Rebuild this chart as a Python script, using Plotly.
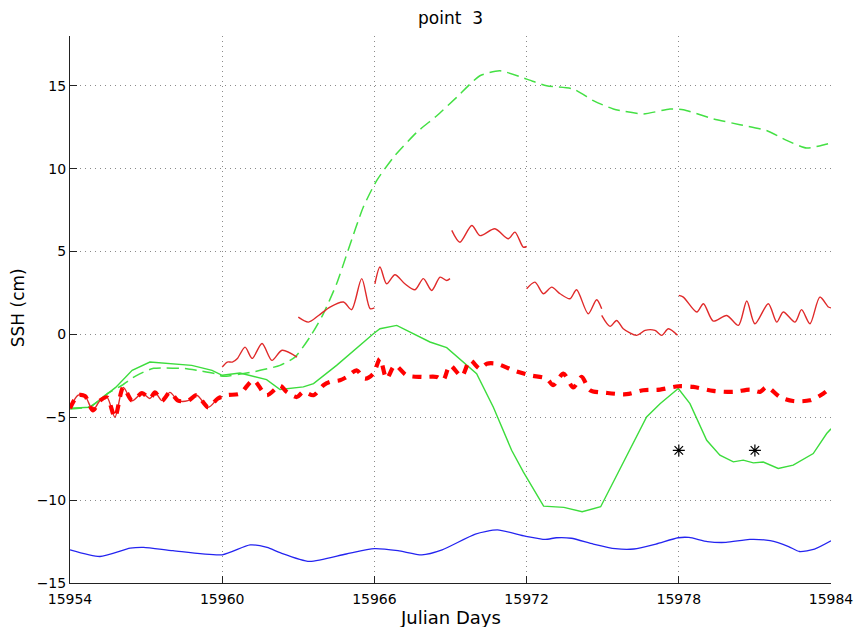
import plotly.graph_objects as go

# ---------------- data ----------------
blue_days = [15954, 15955.18, 15956.37, 15956.9, 15958.06, 15960, 15961.1, 15961.77,
             15962.28, 15963.44, 15964.89, 15966, 15966.93, 15967.87, 15968.67, 15969.98,
             15970.85, 15971.94, 15972.74, 15973.17, 15973.76, 15974.63, 15975.5, 15976.23,
             15977.1, 15977.97, 15978.4, 15979.13, 15979.86, 15980.8, 15981.6, 15982.33,
             15982.76, 15983.35, 15984]
blue_ssh = [-13.0, -13.4, -12.9, -12.85, -13.05, -13.3, -12.7, -12.85,
            -13.17, -13.7, -13.25, -12.93, -13.05, -13.3, -13.0, -12.05,
            -11.8, -12.17, -12.37, -12.27, -12.3, -12.65, -12.93, -12.95,
            -12.65, -12.27, -12.25, -12.5, -12.55, -12.37, -12.45, -12.8,
            -13.1, -12.95, -12.45]

green_days = [15954, 15954.8, 15955.8, 15956.45, 15957.15, 15958.14, 15958.8, 15959.6, 15960,
              15960.7, 15961.75, 15962.28, 15963.2, 15963.6, 15964.51, 15965.96, 15966.22,
              15966.88, 15967.53, 15968.19, 15968.85, 15969.37, 15970.03, 15970.69, 15971.41,
              15971.87, 15972.67, 15973.47, 15974.19, 15974.92, 15975.94, 15976.73, 15977.26,
              15977.98, 15978.44, 15979.1, 15979.62, 15980.15, 15980.54, 15980.94, 15981.33,
              15981.92, 15982.51, 15983.3, 15983.83, 15984]
green_ssh = [-4.45, -4.4, -3.2, -2.17, -1.67, -1.8, -1.87, -2.17, -2.47,
             -2.33, -2.73, -3.33, -3.17, -2.97, -1.87, 0.04, 0.34,
             0.54, 0.04, -0.46, -0.8, -1.47, -2.37, -4.4, -6.99,
             -8.29, -10.36, -10.44, -10.7, -10.4, -7.39, -4.98, -4.18,
             -3.27, -4.18, -6.39, -7.29, -7.69, -7.59, -7.75, -7.7,
             -8.09, -7.89, -7.19, -5.98, -5.7]

gdash_days = [15954, 15954.8, 15955.5, 15956.05, 15956.6, 15957.3, 15958.6, 15959.0, 15959.8,
              15960, 15961.2, 15962.28, 15962.87, 15963.46, 15963.99, 15964.51, 15964.97,
              15965.56, 15966.09, 15966.75, 15967.67, 15968.46, 15969.24, 15970.16, 15970.95,
              15972, 15972.79, 15973.84, 15974.63, 15975.42, 15976.6, 15977.65, 15978.18,
              15979.36, 15980.41, 15981.46, 15982.25, 15983.04, 15983.76, 15984]
gdash_ssh = [-4.5, -4.35, -3.55, -3.07, -2.5, -2.05, -2.07, -2.17, -2.4,
             -2.53, -2.27, -1.87, -1.37, -0.16, 1.25, 3.05, 5.1,
             7.67, 9.28, 10.68, 12.19, 13.19, 14.3, 15.6, 15.9,
             15.4, 15.0, 14.8, 14.1, 13.6, 13.3, 13.6, 13.55,
             13.0, 12.65, 12.3, 11.7, 11.24, 11.45, 11.55]

rthick_days = [15954, 15954.32, 15954.59, 15954.9, 15955.18, 15955.46, 15955.77, 15956.1,
               15956.45, 15956.84, 15957.15, 15957.35, 15957.63, 15957.94, 15958.26, 15958.65,
               15959.0, 15959.45, 15959.83, 15960.2, 15960.7, 15961.23, 15961.75, 15962.28,
               15962.54, 15962.94, 15963.2, 15963.6, 15963.99, 15964.25, 15964.64, 15964.91,
               15965.3, 15965.63, 15965.96, 15966.22, 15966.48, 15966.81, 15967.27, 15967.86,
               15968.46, 15968.71, 15968.98, 15969.44, 15969.77, 15970.16, 15970.43, 15970.82,
               15971.48, 15972.13, 15972.79, 15973.05, 15973.45, 15973.84, 15974.17, 15974.5,
               15975.15, 15975.94, 15976.6, 15977.26, 15977.98, 15978.57, 15979.36, 15980.15,
               15980.81, 15981.2, 15981.47, 15981.99, 15982.51, 15983.17, 15983.7, 15984]
rthick_ssh = [-4.46, -3.67, -3.72, -4.58, -4.0, -3.8, -5.0, -3.2,
              -4.0, -3.55, -3.87, -3.5, -4.0, -3.5, -4.0, -4.0,
              -3.67, -4.4, -3.87, -3.67, -3.57, -2.77, -3.67, -3.1,
              -3.47, -3.78, -3.47, -3.67, -3.07, -2.87, -2.77, -2.57,
              -2.17, -2.67, -2.37, -1.47, -2.67, -1.87, -2.47, -2.57,
              -2.57, -2.77, -1.87, -2.53, -1.57, -2.07, -1.77, -1.77,
              -2.17, -2.47, -2.67, -3.07, -2.37, -3.2, -2.57, -3.37,
              -3.53, -3.61, -3.37, -3.33, -3.13, -3.17, -3.41, -3.47,
              -3.33, -3.47, -3.17, -3.78, -4.02, -3.98, -3.57, -3.2]

# thin red segments (separate pieces)
rthin_days = [
    [15954, 15954.32, 15954.59, 15954.9, 15955.18, 15955.46, 15955.77, 15956.1, 15956.45,
     15956.84, 15957.15, 15957.35, 15957.63, 15957.94, 15958.26, 15958.65, 15959.0,
     15959.45, 15959.83, 15960],
    [15960, 15960.2, 15960.4, 15960.6, 15960.9, 15961.18, 15961.57, 15961.96, 15962.36, 15962.95],
    [15963, 15963.4, 15963.8, 15964.25, 15964.78, 15965.1, 15965.5, 15965.83, 15966],
    [15966.02, 15966.22, 15966.48, 15966.81, 15967.2, 15967.6, 15967.93, 15968.26, 15968.59,
     15968.85, 15968.98],
    [15969.05, 15969.37, 15969.84, 15970.16, 15970.75, 15971.28, 15971.54, 15971.87, 15972],
    [15972, 15972.33, 15972.66, 15972.99, 15973.32, 15973.71, 15973.97, 15974.43, 15974.76,
     15974.96],
    [15974.96, 15975.29, 15975.55, 15975.81, 15976.34, 15976.67, 15977.06, 15977.33, 15977.59,
     15977.95],
    [15978, 15978.18, 15978.71, 15978.97, 15979.36, 15979.89, 15980.35, 15980.68, 15981.0,
     15981.53, 15981.86, 15982.12, 15982.58, 15982.84, 15983.17, 15983.56, 15983.9, 15984],
]
rthin_ssh = [
    [-4.46, -3.67, -3.72, -4.58, -4.0, -3.8, -5.0, -3.2, -4.0,
     -3.55, -3.87, -3.5, -4.0, -3.5, -4.0, -4.0, -3.67,
     -4.4, -3.87, -3.75],
    [-1.97, -1.67, -1.67, -1.45, -0.77, -1.45, -0.55, -1.57, -0.96, -1.37],
    [1.04, 0.74, 1.14, 1.65, 1.95, 1.49, 3.36, 1.55, 1.6],
    [3.05, 4.06, 3.05, 3.6, 3.05, 2.69, 3.36, 2.65, 3.45, 3.25, 3.36],
    [6.27, 5.56, 6.57, 5.96, 6.37, 5.77, 6.17, 5.26, 5.3],
    [2.75, 3.15, 2.45, 2.85, 2.45, 2.15, 2.69, 1.24, 2.09, 1.55],
    [1.14, 0.48, 0.84, 0.34, -0.06, 0.24, 0.24, -0.06, 0.34, -0.06],
    [2.35, 2.25, 1.35, 1.85, 0.8, 1.14, 0.54, 2.01, 0.64,
     1.85, 0.74, 1.35, 0.74, 1.49, 0.64, 2.25, 1.65, 1.6],
]

star_days = [15978, 15981]
star_ssh = [-7.0, -7.0]

x_ticks = [15954, 15960, 15966, 15972, 15978, 15984]
y_ticks = [-15, -10, -5, 0, 5, 10, 15]

# ---------------- figure ----------------
FONT = "DejaVu Sans"
fig = go.Figure()

fig.add_trace(go.Scatter(x=blue_days, y=blue_ssh, mode="lines",
                         line=dict(color="#2424f0", width=1.3, shape="spline", smoothing=0.6)))
fig.add_trace(go.Scatter(x=gdash_days, y=gdash_ssh, mode="lines",
                         line=dict(color="#44e044", width=1.5, dash="12px,6px",
                                   shape="spline", smoothing=0.6)))
fig.add_trace(go.Scatter(x=green_days, y=green_ssh, mode="lines",
                         line=dict(color="#3cdc3c", width=1.4)))

tx, ty = [], []
for d, v in zip(rthin_days, rthin_ssh):
    tx += d + [None]
    ty += v + [None]
fig.add_trace(go.Scatter(x=tx, y=ty, mode="lines", connectgaps=False,
                         line=dict(color="#e02a2a", width=1.4, shape="spline", smoothing=0.8)))

fig.add_trace(go.Scatter(x=rthick_days, y=rthick_ssh, mode="lines",
                         line=dict(color="#ff0000", width=4.2, dash="9px,8px",
                                   shape="spline", smoothing=0.8)))

fig.add_trace(go.Scatter(x=star_days, y=star_ssh, mode="markers",
                         marker=dict(symbol="asterisk-open", size=10, color="black",
                                     line=dict(color="black", width=1.2))))

axis_common = dict(
    showline=True, linecolor="#222", linewidth=1,
    ticks="inside", ticklen=7, tickcolor="#222", tickwidth=1,
    showgrid=True, gridcolor="#8a8a8a", gridwidth=1, griddash="1px,4px",
    zeroline=False, mirror=False, automargin=False,
    tickfont=dict(family=FONT, size=14, color="black"),
)

fig.update_xaxes(range=[15954, 15984], tickvals=x_ticks, ticklabelstandoff=3,
                 ticktext=[str(t) for t in x_ticks], **axis_common)
fig.update_yaxes(range=[-15, 18], tickvals=y_ticks,
                 ticktext=[str(t).replace("-", "\u2212") for t in y_ticks], **axis_common)

fig.update_layout(
    width=858, height=627,
    margin=dict(l=70, r=27, t=36, b=44, pad=0, autoexpand=False),
    paper_bgcolor="white", plot_bgcolor="white",
    showlegend=False,
    font=dict(family=FONT, color="black"),
    title=dict(text="point&nbsp;&nbsp;3", x=0.5, xref="paper", y=0.972, yref="container",
               xanchor="center", yanchor="middle",
               font=dict(family=FONT, size=17, color="black")),
    annotations=[
        dict(text="Julian Days", x=0.5, y=-0.0625, xref="paper", yref="paper",
             xanchor="center", yanchor="middle", showarrow=False,
             font=dict(family=FONT, size=18, color="black")),
        dict(text="SSH (cm)", x=-0.068, y=0.5027, xref="paper", yref="paper",
             xanchor="center", yanchor="middle", showarrow=False, textangle=-90,
             font=dict(family=FONT, size=17, color="black")),
    ],
)

fig.write_html("out.html")
